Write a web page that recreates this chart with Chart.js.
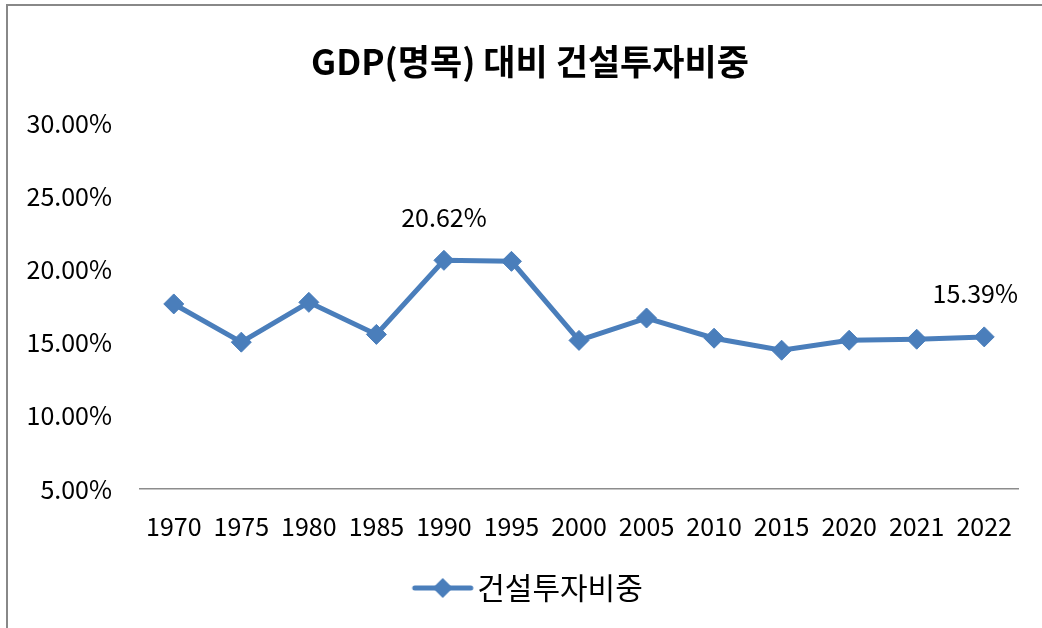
<!DOCTYPE html>
<html>
<head>
<meta charset="utf-8">
<script src="https://cdn.jsdelivr.net/npm/chart.js@4"></script>
<style>
  body { margin: 0; background: #fff; }
  #wrap { position: relative; width: 1042px; height: 628px; overflow: hidden; background: #fff; }
  #frame { position: absolute; left: 6px; top: 4px; width: 2000px; height: 2000px; border-top: 2px solid #888; border-left: 2px solid #888; }
  #c { position: absolute; left: 0; top: 0; }
</style>
</head>
<body>
<div id="wrap">
  <div id="frame"></div>
  <canvas id="c" width="1042" height="628"></canvas>
</div>
<script>
const years = ["1970", "1975", "1980", "1985", "1990", "1995", "2000", "2005", "2010", "2015", "2020", "2021", "2022"];
const share = [17.64, 15.03, 17.75, 15.56, 20.62, 20.55, 15.15, 16.68, 15.3, 14.48, 15.16, 15.23, 15.39];
const pointLabels = ["", "", "", "", "20.62%", "", "", "", "", "", "", "", "15.39%"];
const yTicks = [5, 10, 15, 20, 25, 30];

const chartTitle = "GDP(명목) 대비 건설투자비중";
const seriesName = "건설투자비중";
const blue = "#4A7EBB";
const fontFam = "'Noto Sans CJK KR', 'Noto Sans', sans-serif";

// 범례 아이콘: 선 + 다이아몬드 (왼쪽 여백 포함)
const icon = document.createElement("canvas");
icon.width = 120;
icon.height = 24;
const ictx = icon.getContext("2d");
ictx.strokeStyle = blue;
ictx.lineWidth = 5;
ictx.lineCap = "round";
ictx.beginPath();
ictx.moveTo(56, 12);
ictx.lineTo(112, 12);
ictx.stroke();
ictx.fillStyle = blue;
ictx.beginPath();
ictx.moveTo(84, 2);
ictx.lineTo(94, 12);
ictx.lineTo(84, 22);
ictx.lineTo(74, 12);
ictx.closePath();
ictx.fill();

// 제목 (엑셀처럼 전체 영역 가운데)
const titlePlugin = {
  id: "excelTitle",
  afterDraw(chart) {
    const ctx = chart.ctx;
    ctx.save();
    ctx.font = "bold 35px " + fontFam;
    ctx.fillStyle = "#000";
    ctx.textAlign = "center";
    ctx.textBaseline = "middle";
    ctx.fillText(chartTitle, 530, 62);
    ctx.restore();
  }
};

// 데이터 레이블
const labelPlugin = {
  id: "pointLabels",
  afterDatasetsDraw(chart) {
    const ctx = chart.ctx;
    const meta = chart.getDatasetMeta(0);
    ctx.save();
    ctx.font = "25px " + fontFam;
    ctx.fillStyle = "#000";
    ctx.textAlign = "center";
    ctx.textBaseline = "middle";
    meta.data.forEach((pt, i) => {
      const txt = pointLabels[i];
      if (!txt) return;
      const w = ctx.measureText(txt).width;
      let x = pt.x;
      if (x + w / 2 > chart.chartArea.right) x = chart.chartArea.right - w / 2;
      ctx.fillText(txt, x, pt.y - 43);
    });
    ctx.restore();
  }
};

new Chart(document.getElementById("c"), {
  type: "line",
  data: {
    labels: years,
    datasets: [{
      label: seriesName,
      data: share,
      borderColor: blue,
      backgroundColor: blue,
      borderWidth: 5,
      pointStyle: "rectRot",
      pointRadius: 10,
      pointBorderWidth: 1,
      pointBackgroundColor: blue,
      pointBorderColor: blue,
      tension: 0
    }]
  },
  options: {
    responsive: false,
    animation: false,
    layout: { padding: { left: 0, right: 24, top: 123, bottom: 15 } },
    plugins: {
      title: { display: false },
      legend: {
        position: "bottom",
        labels: {
          usePointStyle: true,
          pointStyleWidth: 87,
          color: "#000",
          font: { family: fontFam, size: 30 },
          generateLabels() {
            return [{ text: seriesName, pointStyle: icon, fillStyle: blue, strokeStyle: blue, lineWidth: 0, datasetIndex: 0 }];
          }
        }
      },
      tooltip: { enabled: false }
    },
    scales: {
      x: {
        offset: true,
        grid: { display: false, drawTicks: false },
        border: { display: true, color: "#8c8c8c", width: 1.5 },
        ticks: { color: "#000", font: { family: fontFam, size: 25 }, padding: 22, maxRotation: 0, autoSkip: false },
        afterFit(scale) { scale.height = 74; }
      },
      y: {
        min: 5,
        max: 30,
        grid: { display: false, drawTicks: false },
        border: { display: false },
        afterBuildTicks(scale) { scale.ticks = yTicks.map(v => ({ value: v })); },
        ticks: {
          color: "#000",
          font: { family: fontFam, size: 25 },
          padding: 28,
          callback: v => v.toFixed(2) + "%"
        },
        afterFit(scale) { scale.width = 140; }
      }
    }
  },
  plugins: [labelPlugin, titlePlugin]
});
</script>
</body>
</html>
